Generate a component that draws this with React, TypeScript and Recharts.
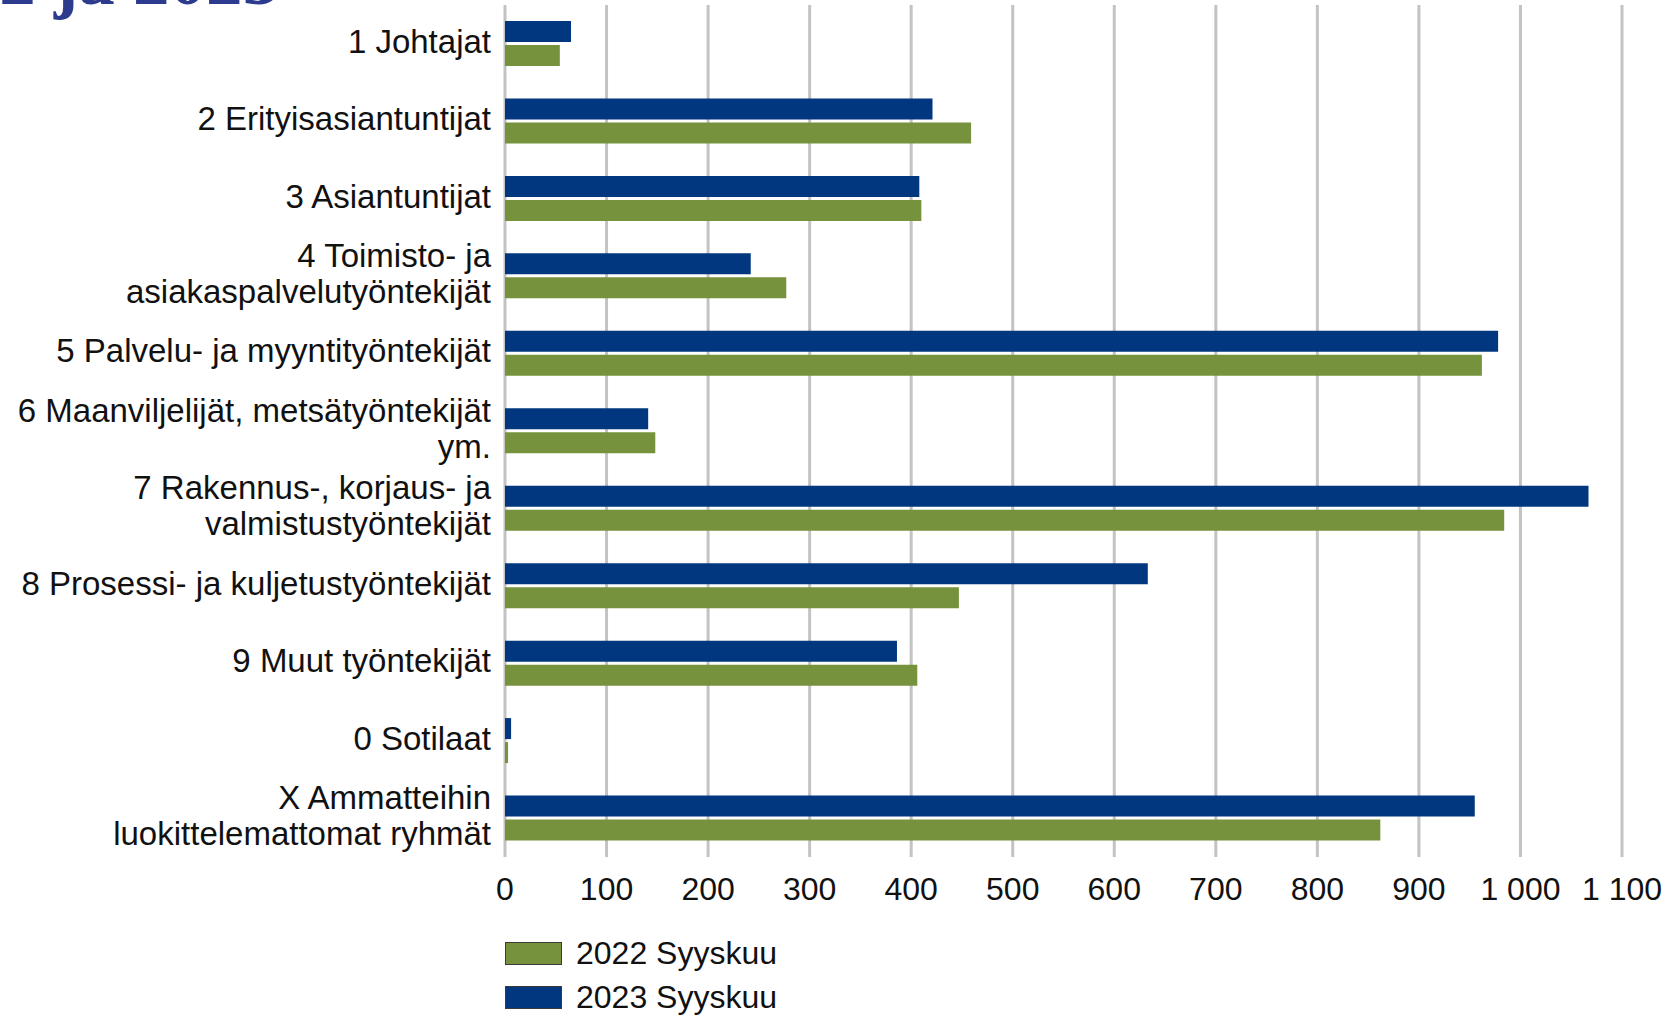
import { BarChart, Bar, XAxis, YAxis, CartesianGrid } from "recharts";

// Ammattiryhmät (rivinvaihdot kuten kuvassa)
const categories = [
  "1 Johtajat",
  "2 Erityisasiantuntijat",
  "3 Asiantuntijat",
  "4 Toimisto- ja\nasiakaspalvelutyöntekijät",
  "5 Palvelu- ja myyntityöntekijät",
  "6 Maanviljelijät, metsätyöntekijät\nym.",
  "7 Rakennus-, korjaus- ja\nvalmistustyöntekijät",
  "8 Prosessi- ja kuljetustyöntekijät",
  "9 Muut työntekijät",
  "0 Sotilaat",
  "X Ammatteihin\nluokittelemattomat ryhmät",
];

const values2022 = [54, 459, 410, 277, 962, 148, 984, 447, 406, 3, 862];
const values2023 = [65, 421, 408, 242, 978, 141, 1067, 633, 386, 6, 955];

const xTicks = [0, 100, 200, 300, 400, 500, 600, 700, 800, 900, 1000, 1100];

const seriesNames = ["2022 Syyskuu", "2023 Syyskuu"];
const GREEN = "#77923d";
const BLUE = "#00377f";

const FONT = '"Liberation Sans", Arial, sans-serif';
const FONT_SIZE = 33;
const LINE_H = 36;

const data = categories.map((name, i) => ({
  name,
  v2022: values2022[i],
  v2023: values2023[i],
}));

const fmt = (v: number) => (v >= 1000 ? `${Math.floor(v / 1000)} ${String(v % 1000).padStart(3, "0")}` : String(v));

const CategoryTick = (props: any) => {
  const { x, y, payload } = props;
  const lines: string[] = String(payload.value).split("\n");
  const start = y - 2 - ((lines.length - 1) * LINE_H) / 2;
  return (
    <text x={x} y={start} textAnchor="end" fontSize={FONT_SIZE} fontFamily={FONT} fill="#111">
      {lines.map((l, i) => (
        <tspan key={i} x={x} dy={i === 0 ? "0.33em" : LINE_H}>
          {l}
        </tspan>
      ))}
    </text>
  );
};

export default function App() {
  const legendItems = [
    { name: seriesNames[0], color: GREEN },
    { name: seriesNames[1], color: BLUE },
  ];
  return (
    <div
      style={{
        position: "absolute",
        left: 0,
        top: 0,
        width: 1665,
        height: 1015,
        overflow: "hidden",
        background: "#fff",
      }}
    >
      <BarChart
        width={1665}
        height={1015}
        data={data}
        layout="vertical"
        margin={{ top: 5, right: 43, bottom: 108, left: 0 }}
        barSize={21}
        barGap={3}
      >
        <CartesianGrid horizontal={false} vertical stroke="#c3c3c3" strokeWidth={3} />
        <XAxis
          type="number"
          domain={[0, 1100]}
          ticks={xTicks}
          tickFormatter={fmt}
          axisLine={false}
          tickLine={false}
          tickMargin={14}
          height={50}
          interval={0}
          tick={{ fontSize: 32, fontFamily: FONT, fill: "#111" }}
        />
        <YAxis
          type="category"
          dataKey="name"
          width={505}
          axisLine={false}
          tickLine={false}
          tickMargin={8}
          interval={0}
          tick={<CategoryTick />}
        />
        <Bar dataKey="v2023" name={seriesNames[1]} fill={BLUE} isAnimationActive={false} />
        <Bar dataKey="v2022" name={seriesNames[0]} fill={GREEN} isAnimationActive={false} />
      </BarChart>

      {/* selite */}
      <div style={{ position: "absolute", left: 505, top: 931, fontFamily: FONT, fontSize: 32, color: "#111" }}>
        {legendItems.map((it) => (
          <div key={it.name} style={{ display: "flex", alignItems: "center", height: 44, lineHeight: "38px" }}>
            <span
              style={{
                display: "inline-block",
                width: 55,
                height: 21,
                background: it.color,
                border: "1.5px solid #3a3a3a",
                marginRight: 14,
              }}
            />
            <span>{it.name}</span>
          </div>
        ))}
      </div>

      {/* otsikon alareuna, leikattu kuvan yläreunasta */}
      <svg width={400} height={40} style={{ position: "absolute", left: 0, top: 0 }}>
        <text
          x={279}
          y={4}
          textAnchor="end"
          fontSize={73}
          fontWeight="bold"
          fontFamily='"Liberation Serif", "DejaVu Serif", serif'
          fill="#2d3b8e"
        >
          2022 ja 2023
        </text>
      </svg>
    </div>
  );
}
